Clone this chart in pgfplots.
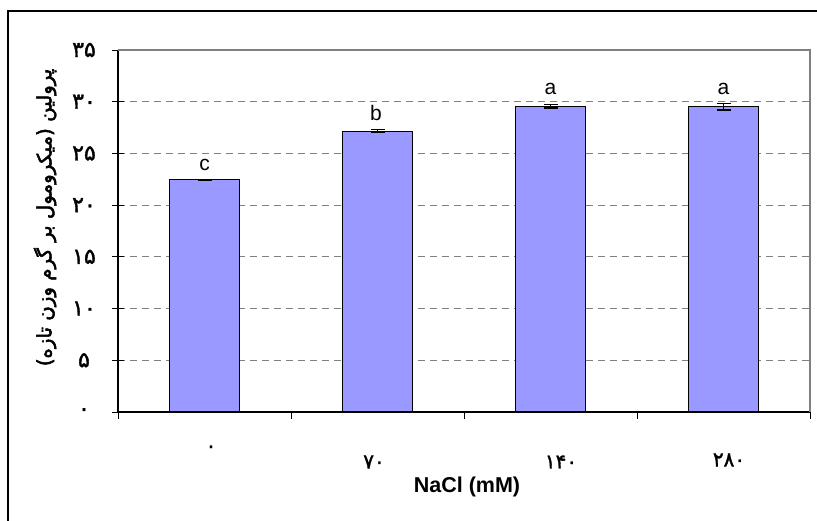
\documentclass[border=0pt]{standalone}
\usepackage{fontspec}
\usepackage{pgfplots}
\pgfplotsset{compat=1.18}
\setmainfont{Liberation Sans}
\newfontfamily\arabicfont[Script=Arabic, FakeBold=1.6]{DejaVu Sans}
\newfontfamily\arabiclabel[Script=Arabic, FakeBold=2.6]{DejaVu Sans}
\TeXXeTstate=1
\definecolor{barblue}{HTML}{9999FF}
\definecolor{framegray}{HTML}{808080}
\begin{document}
\begin{tikzpicture}[x=1pt,y=1pt]
\useasboundingbox (0,0) rectangle (817,520);
\draw[line width=1.5pt] (8,-2) -- (8,509) -- (819,509);
\begin{axis}[
  at={(118pt,108pt)}, anchor=south west,
  scale only axis, width=692pt, height=362pt,
  xmin=-0.5, xmax=3.5, ymin=0, ymax=35,
  axis lines=left, axis line style={-, line width=1.2pt, black},
  xtick=\empty,
  ytick={0,5,...,35},
  yticklabels={۰,۵,۱۰,۱۵,۲۰,۲۵,۳۰,۳۵},
  tick align=center, major tick length=12pt,
  tick style={line width=1pt, black},
  yticklabel style={anchor=center, xshift=-28pt, font=\arabicfont\fontsize{22}{26}\selectfont},
  ymajorgrids, grid style={dash pattern=on 7pt off 5pt, framegray, line width=1pt},
  clip=false,
]
\addplot[ybar, bar width=70pt, fill=barblue, draw=black, line width=1.2pt,
  error bars/.cd, y dir=both, y explicit,
  error bar style={line width=1.2pt, black},
  error mark options={rotate=90, mark size=7pt, line width=1.2pt, black}]
  coordinates {(0,22.45) +- (0,0.05) (1,27.15) +- (0,0.15) (2,29.55) +- (0,0.15) (3,29.5) +- (0,0.3)};
\draw[framegray, line width=1.5pt] (rel axis cs:0,1) -- (rel axis cs:1,1) -- (rel axis cs:1,0);
\pgfplotsinvokeforeach{-0.5,0.5,1.5,2.5,3.5}{\draw[line width=1pt, black] (axis cs:#1,0) -- ++(0pt,-7pt);}
\end{axis}
% category labels
\begin{scope}[every node/.style={font=\arabicfont\fontsize{20}{24}\selectfont}]
\node at (211,71) {۰};
\node at (374,58) {۷۰};
\node at (561,58) {۱۴۰};
\node at (729,60) {۲۸۰};
\end{scope}
% significance letters
\begin{scope}[every node/.style={anchor=base, inner sep=0pt, font=\fontsize{21}{25}\selectfont}]
\node at (204.5,349.3) {c};
\node at (376,399.3) {b};
\node at (550.5,425) {a};
\node at (723.5,425) {a};
\end{scope}
\node[font=\bfseries\fontsize{21.5}{25}\selectfont] at (467,33) {NaCl (mM)};
\node[rotate=90, font=\arabiclabel\fontsize{19.8}{23}\selectfont] at (45,302.5) {\beginR پرولین (میکرومول بر گرم وزن تازه)\endR};
\end{tikzpicture}
\end{document}
